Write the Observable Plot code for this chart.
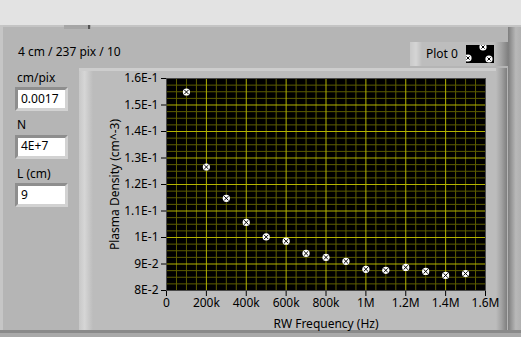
<!DOCTYPE html>
<html>
<head>
<meta charset="utf-8">
<script src="https://cdn.jsdelivr.net/npm/d3@7"></script>
<script src="https://cdn.jsdelivr.net/npm/@observablehq/plot@0.6"></script>
<style>
  html, body { margin: 0; padding: 0; background: #b5b5b5; }
  #panel { position: relative; width: 521px; height: 337px; overflow: hidden; background: #b5b5b5; font-family: "Noto Sans", sans-serif; font-size: 12px; color: #000; }
  .abs { position: absolute; }
  .txt { position: absolute; white-space: nowrap; line-height: 16px; font-size: 12px; }
  .box { position: absolute; box-sizing: border-box; background: #fff; border-style: solid; border-width: 3px; border-color: #8e8e8e #d2d2d2 #d2d2d2 #8e8e8e; }
  #chart { position: absolute; left: 0; top: 0; }
</style>
</head>
<body>
<div id="panel">
  <div class="abs" style="left:0;top:0;width:521px;height:25px;background:#e3e3e3"></div>
  <div class="abs" style="left:0;top:25px;width:521px;height:2px;background:#c4c4c4"></div>
  <div class="abs" style="left:0;top:25px;width:3px;height:305px;background:#c6c6c6"></div>
  <div class="abs" style="left:64px;top:25px;width:27px;height:4px;background:#a6a6a6"></div>
  <div class="abs" style="left:88px;top:25px;width:2px;height:4px;background:#555"></div>
  <div class="abs" style="left:0;top:330px;width:521px;height:3px;background:#8a8a8a"></div>
  <div class="abs" style="left:0;top:333px;width:521px;height:4px;background:#a9a9a9"></div>
  <div class="abs" style="left:508px;top:27px;width:13px;height:303px;background:linear-gradient(to right,#7d7d7d,#9b9b9b 30%,#b8b8b8 60%,#b0b0b0)"></div>

  <!-- graph frame -->
  <div class="abs" style="left:79px;top:68px;width:428px;height:262px;background:#bcbcbc"></div>
  <div class="abs" style="left:79px;top:68px;width:14px;height:262px;background:linear-gradient(to right,#c8c8c8,#d6d6d6 40%,#bcbcbc)"></div>
  <div class="abs" style="left:79px;top:68px;width:428px;height:3px;background:#cdcdcd"></div>
  <div class="abs" style="left:496px;top:68px;width:11px;height:262px;background:linear-gradient(to right,#bcbcbc,#a2a2a2 50%,#7e7e7e)"></div>

  <!-- legend -->
  <div class="abs" style="left:410px;top:42px;width:98px;height:24px;background:#bdbdbd"></div>
  <div class="abs" style="left:410px;top:42px;width:12px;height:24px;background:linear-gradient(to right,#c9c9c9,#d5d5d5 50%,#bdbdbd)"></div>
  <div class="abs" style="left:494px;top:42px;width:14px;height:24px;background:linear-gradient(to right,#bdbdbd,#a4a4a4 50%,#808080)"></div>
  <div class="txt" style="left:426px;top:46px;">Plot 0</div>
  <svg class="abs" style="left:466px;top:45px" width="28" height="18">
    <rect width="28" height="18" fill="#000"/>
    <g id="legmarks"></g>
  </svg>

  <div class="txt" style="left:18px;top:44px;">4 cm / 237 pix / 10</div>
  <div class="txt" style="left:17px;top:70px;">cm/pix</div>
  <div class="box" style="left:15px;top:87px;width:53px;height:24px;"></div>
  <div class="txt" style="left:21px;top:91px;">0.0017</div>
  <div class="txt" style="left:17px;top:117px;">N</div>
  <div class="box" style="left:15px;top:135px;width:53px;height:24px;"></div>
  <div class="txt" style="left:21px;top:138px;">4E+7</div>
  <div class="txt" style="left:17px;top:166px;">L (cm)</div>
  <div class="box" style="left:15px;top:183px;width:53px;height:24px;"></div>
  <div class="txt" style="left:21px;top:187px;">9</div>

  <div id="chart"></div>
</div>
<script>
// ---- data ----
const frequencies = [100000, 200000, 300000, 400000, 500000, 600000, 700000, 800000, 900000, 1000000, 1100000, 1200000, 1300000, 1400000, 1500000];
const densities = [0.1549, 0.1266, 0.1148, 0.1057, 0.1002, 0.0986, 0.0940, 0.0925, 0.0910, 0.0880, 0.0876, 0.0887, 0.0872, 0.0857, 0.0864];

const xTicks = [0, 200000, 400000, 600000, 800000, 1000000, 1200000, 1400000, 1600000];
const xTickLabels = ["0", "200k", "400k", "600k", "800k", "1M", "1.2M", "1.4M", "1.6M"];
const yTicks = [0.08, 0.09, 0.10, 0.11, 0.12, 0.13, 0.14, 0.15, 0.16];
const yTickLabels = ["8E-2", "9E-2", "1E-1", "1.1E-1", "1.2E-1", "1.3E-1", "1.4E-1", "1.5E-1", "1.6E-1"];
const xMinor = [50000,100000,150000,250000,300000,350000,450000,500000,550000,650000,700000,750000,850000,900000,950000,1050000,1100000,1150000,1250000,1300000,1350000,1450000,1500000,1550000];
const yMinor = [0.0825,0.085,0.0875,0.0925,0.095,0.0975,0.1025,0.105,0.1075,0.1125,0.115,0.1175,0.1225,0.125,0.1275,0.1325,0.135,0.1375,0.1425,0.145,0.1475,0.1525,0.155,0.1575];

const data = frequencies.map((f, i) => ({f, n: densities[i]}));

const minorColor = "#5e5e00";
const majorColor = "#b4b400";

const chart = Plot.plot({
  width: 521,
  height: 337,
  marginLeft: 166,
  marginRight: 36,
  marginTop: 78,
  marginBottom: 47,
  style: {background: "transparent", fontFamily: "Noto Sans, sans-serif", fontSize: "12px", color: "#000", overflow: "visible"},
  x: {
    domain: [0, 1600000],
    ticks: xTicks,
    tickFormat: d => xTickLabels[xTicks.indexOf(d)],
    tickSize: 6,
    tickPadding: 2,
    label: "RW Frequency (Hz)",
    labelAnchor: "center",
    labelArrow: "none",
    labelOffset: 37
  },
  y: {
    domain: [0.08, 0.16],
    ticks: yTicks,
    tickFormat: d => yTickLabels[yTicks.indexOf(d)],
    tickSize: 5,
    tickPadding: 3,
    label: "Plasma Density (cm^-3)",
    labelAnchor: "center",
    labelArrow: "none",
    labelOffset: 56
  },
  marks: [
    Plot.frame({fill: "#000"}),
    Plot.ruleX(xMinor, {stroke: minorColor}),
    Plot.ruleY(yMinor, {stroke: minorColor}),
    Plot.ruleX(xTicks, {stroke: majorColor}),
    Plot.ruleY(yTicks, {stroke: majorColor}),
    Plot.frame({stroke: "#4a4a4a"}),
    Plot.dot(data, {x: "f", y: "n", r: 3.6, fill: "#fff", stroke: "none"}),
    Plot.dot(data, {x: "f", y: "n", r: 2.1, symbol: "times", stroke: "#000", strokeWidth: 1})
  ]
});
document.getElementById("chart").appendChild(chart);

// legend markers (sample of the plot's marker style)
const leg = d3.select("#legmarks");
[[17, 2], [2, 13], [23, 14]].forEach(([cx, cy]) => {
  leg.append("circle").attr("cx", cx).attr("cy", cy).attr("r", 3.6).attr("fill", "#fff");
  leg.append("path").attr("d", `M${cx-1.6},${cy-1.6}L${cx+1.6},${cy+1.6}M${cx-1.6},${cy+1.6}L${cx+1.6},${cy-1.6}`).attr("stroke", "#000").attr("stroke-width", 1);
});
</script>
</body>
</html>
